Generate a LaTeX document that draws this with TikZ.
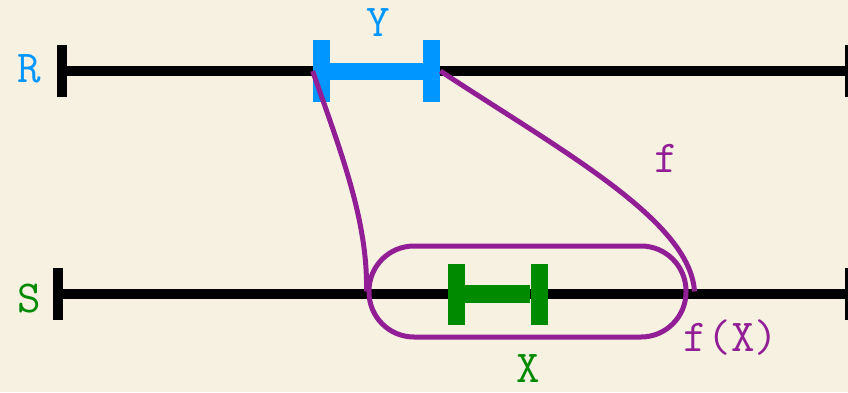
\documentclass[tikz,border=0pt]{standalone}
\usepackage{fontspec}
\usetikzlibrary{calc}
\definecolor{rblue}{HTML}{0096FF}
\definecolor{sgreen}{HTML}{008A00}
\definecolor{fpurple}{HTML}{921E96}
\definecolor{paper}{HTML}{F7F1E2}

\begin{document}
\begin{tikzpicture}[
  endtick/.style={rectangle, fill=black, inner sep=0pt, minimum width=0.2cm, minimum height=1.05cm},
  ytick/.style={rectangle, fill=rblue, inner sep=0pt, minimum width=0.34cm, minimum height=1.24cm},
  xtick/.style={rectangle, fill=sgreen, inner sep=0pt, minimum width=0.34cm, minimum height=1.22cm},
  axisline/.style={line width=0.21cm},
  lbl/.style={font=\ttfamily\fontsize{26}{30}\selectfont, anchor=base, inner sep=0pt},
  map/.style={draw=fpurple, line width=0.1cm},
]
  \useasboundingbox[fill=paper] (0,0) rectangle (16.96,7.84);

  % the two lines R and S
  \node[endtick] (r0) at (1.24,6.42) {};
  \node[endtick] (r1) at (17.0,6.42) {};
  \node[endtick] (s0) at (1.16,1.96) {};
  \node[endtick] (s1) at (17.0,1.96) {};
  \draw[axisline] (r0) -- (r1);
  \draw[axisline] (s0) -- (s1);

  % intervals Y and X
  \node[ytick] (ya) at (6.43,6.42) {};
  \node[ytick] (yb) at (8.63,6.42) {};
  \draw[rblue, line width=0.34cm] (ya) -- (yb);
  \node[xtick] (xa) at (9.13,1.96) {};
  \node[xtick] (xb) at (10.78,1.96) {};
  \draw[sgreen, line width=0.36cm] (xa) -- (xb);

  % f(X) and the map f
  \node[map, rounded corners=0.9cm, minimum width=6.34cm, minimum height=1.82cm] (fx) at (10.55,2.01) {};
  \draw[map] (ya.west) .. controls (6.8,4.84) and (7.36,3.44) .. (fx.west);
  \draw[map] (yb.east) .. controls (11.2,4.84) and (13.8,3.44) .. ([xshift=0.12cm]fx.east);

  \node[lbl, text=rblue] (rname) at (0.58,6.2) {R};
  \node[lbl, text=sgreen] (sname) at (0.58,1.6) {S};
  \node[lbl, text=rblue] (yname) at (7.56,7.12) {Y};
  \node[lbl, text=sgreen] (xname) at (10.56,0.2) {X};
  \node[lbl, text=fpurple] (fname) at (13.32,4.4) {f};
  \node[lbl, text=fpurple] (fxname) at (14.62,0.82) {f(X)};
\end{tikzpicture}
\end{document}
